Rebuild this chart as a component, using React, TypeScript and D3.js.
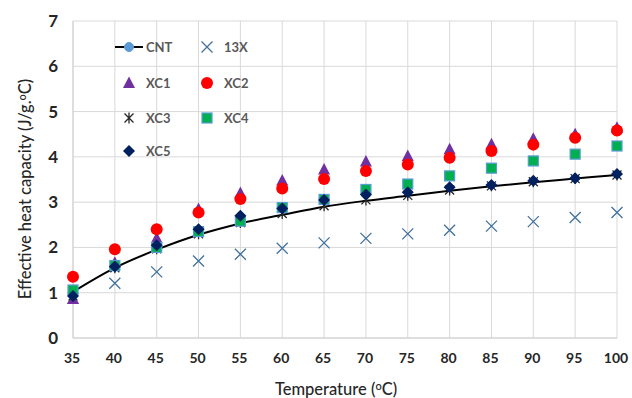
import * as React from 'react';
import * as d3 from 'd3';

const temps = [35, 40, 45, 50, 55, 60, 65, 70, 75, 80, 85, 90, 95, 100];
const cnt = [1.02, 1.55, 1.95, 2.28, 2.53, 2.72, 2.9, 3.03, 3.14, 3.25, 3.35, 3.44, 3.52, 3.6];
const x13 = [0.88, 1.21, 1.46, 1.7, 1.85, 1.98, 2.1, 2.2, 2.3, 2.38, 2.47, 2.57, 2.66, 2.77];
const xc1 = [0.86, 1.66, 2.2, 2.85, 3.2, 3.48, 3.72, 3.9, 4.02, 4.17, 4.28, 4.4, 4.5, 4.64];
const xc2 = [1.35, 1.96, 2.4, 2.77, 3.07, 3.3, 3.51, 3.69, 3.83, 3.98, 4.13, 4.27, 4.42, 4.58];
const xc3 = [0.93, 1.55, 1.97, 2.3, 2.55, 2.75, 2.92, 3.05, 3.15, 3.27, 3.36, 3.45, 3.52, 3.6];
const xc4 = [1.06, 1.6, 2.0, 2.35, 2.58, 2.88, 3.06, 3.28, 3.4, 3.58, 3.75, 3.91, 4.06, 4.24];
const xc5 = [0.93, 1.58, 2.05, 2.4, 2.7, 2.86, 3.05, 3.17, 3.22, 3.33, 3.38, 3.47, 3.53, 3.62];
const yTicks = [0, 1, 2, 3, 4, 5, 6, 7];

const font = "Lato, 'Open Sans', sans-serif";

function Marker({ kind, x, y }: { kind: string; x: number; y: number }) {
  if (kind === 'circleBlue') return <circle cx={x} cy={y} r={4.5} fill="#5B9BD5" stroke="#5B9BD5" />;
  if (kind === 'x') {
    const s = 5.5;
    return <path d={`M${x - s},${y - s}L${x + s},${y + s}M${x - s},${y + s}L${x + s},${y - s}`} stroke="#41719C" strokeWidth={1.3} fill="none" />;
  }
  if (kind === 'tri') {
    return <path d={`M${x},${y - 6.5}L${x + 6},${y + 5}L${x - 6},${y + 5}Z`} fill="#7030A0" />;
  }
  if (kind === 'dot') return <circle cx={x} cy={y} r={6} fill="#FF0000" />;
  if (kind === 'star') {
    const s = 4.5;
    return <path d={`M${x - s},${y - s}L${x + s},${y + s}M${x - s},${y + s}L${x + s},${y - s}M${x},${y - 5.5}L${x},${y + 5.5}`} stroke="#262626" strokeWidth={1.3} fill="none" />;
  }
  if (kind === 'sq') return <rect x={x - 5} y={y - 5} width={10} height={10} fill="#00B050" stroke="#5B9BD5" strokeWidth={1.2} />;
  if (kind === 'dia') return <path d={`M${x},${y - 6}L${x + 6},${y}L${x},${y + 6}L${x - 6},${y}Z`} fill="#002060" />;
  return null;
}

export default function App() {
  const width = 632, height = 398;
  const xScale = d3.scaleLinear().domain([35, 100]).range([73, 617]);
  const yScale = d3.scaleLinear().domain([0, 7]).range([338, 21]);
  const pts = (vals: number[]) => temps.map((t, i) => [xScale(t), yScale(vals[i])] as [number, number]);

  const line = d3.line().curve(d3.curveCatmullRom.alpha(0.5))(pts(cnt)) || '';

  const series = [
    { name: 'CNT', kind: 'circleBlue', vals: cnt },
    { name: '13X', kind: 'x', vals: x13 },
    { name: 'XC1', kind: 'tri', vals: xc1 },
    { name: 'XC2', kind: 'dot', vals: xc2 },
    { name: 'XC3', kind: 'star', vals: xc3 },
    { name: 'XC4', kind: 'sq', vals: xc4 },
    { name: 'XC5', kind: 'dia', vals: xc5 },
  ];

  const legendPos = [
    [129, 47], [207, 47], [129, 83], [207, 83], [129, 118], [207, 118], [129, 151],
  ];

  return (
    <svg width={width} height={height} style={{ position: 'absolute', left: 0, top: 0, background: '#fff' }}>
      {/* grid */}
      {yTicks.map(t => (
        <line key={'gy' + t} x1={xScale(35)} x2={xScale(100)} y1={yScale(t)} y2={yScale(t)} stroke="#D9D9D9" strokeWidth={1} />
      ))}
      {temps.map(t => (
        <line key={'gx' + t} x1={xScale(t)} x2={xScale(t)} y1={yScale(0)} y2={yScale(7)} stroke="#D9D9D9" strokeWidth={1} />
      ))}
      <line x1={xScale(35)} x2={xScale(35)} y1={yScale(0)} y2={yScale(7)} stroke="#D0D0D0" />
      <line x1={xScale(35)} x2={xScale(100)} y1={yScale(0)} y2={yScale(0)} stroke="#D0D0D0" />

      {/* tick labels */}
      {yTicks.map(t => (
        <text key={'ty' + t} x={58} y={yScale(t)} dy="0.35em" textAnchor="end" fontFamily={font} fontWeight={700} fontSize={17} fill="#262626">{t}</text>
      ))}
      {temps.map(t => (
        <text key={'tx' + t} x={xScale(t) - 1} y={358} dy="0.35em" textAnchor="middle" fontFamily={font} fontWeight={700} fontSize={14} fill="#262626">{t}</text>
      ))}

      {/* axis titles */}
      <text x={336} y={389} dy="0.35em" textAnchor="middle" fontFamily={font} fontWeight={500} fontSize={16.5} fill="#262626">
        Temperature (<tspan fontSize={11} dy={-5}>o</tspan><tspan dy={5}>C)</tspan>
      </text>
      <text transform={`translate(25,189) rotate(-90)`} textAnchor="middle" dy="0.35em" fontFamily={font} fontWeight={500} fontSize={16.5} fill="#262626">
        Effective heat capacity (J/g.<tspan fontSize={11} dy={-5}>o</tspan><tspan dy={5}>C)</tspan>
      </text>

      {/* CNT line */}
      <path d={line} fill="none" stroke="#000" strokeWidth={2} />

      {/* markers */}
      {series.filter(s => s.name !== 'CNT').map(s => (
        <g key={s.name}>
          {pts(s.vals).map(([x, y], i) => <Marker key={i} kind={s.kind} x={x} y={y} />)}
        </g>
      ))}

      {/* legend */}
      {series.map((s, i) => {
        const [lx, ly] = legendPos[i];
        return (
          <g key={'lg' + s.name}>
            {s.name === 'CNT' && <line x1={lx - 14} x2={lx + 14} y1={ly} y2={ly} stroke="#000" strokeWidth={2} />}
            <Marker kind={s.kind} x={lx} y={ly} />
            <text x={lx + 17} y={ly} dy="0.35em" fontFamily={font} fontWeight={700} fontSize={13} fill="#595959">{s.name}</text>
          </g>
        );
      })}
    </svg>
  );
}
